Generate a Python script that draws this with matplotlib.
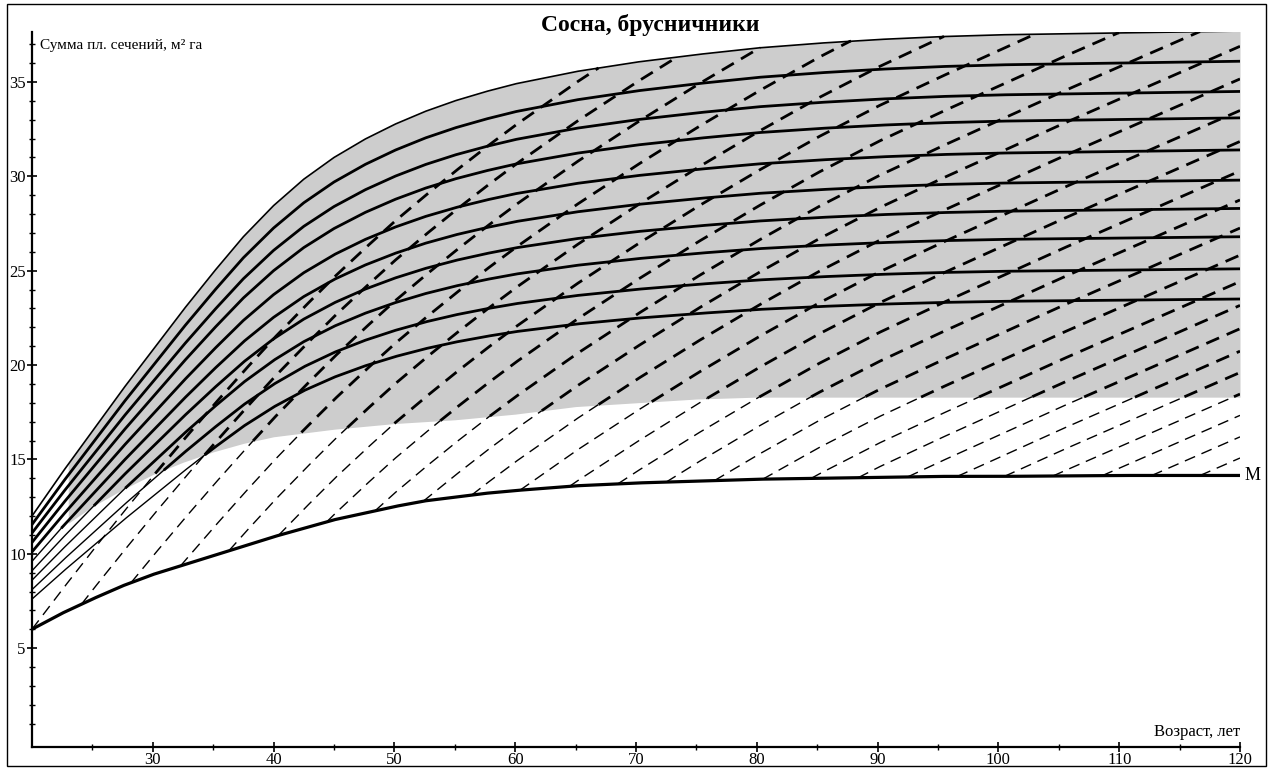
import numpy as np
import matplotlib.pyplot as plt
from matplotlib.patches import Rectangle

plt.rcParams['font.family'] = ['Liberation Serif', 'DejaVu Serif']

ages = [20, 22.5, 25, 27.5, 30, 32.5, 35, 37.5, 40, 42.5, 45, 47.5, 50, 52.5, 55, 57.5, 60,
        65, 70, 75, 80, 85, 90, 95, 100, 105, 110, 115, 120]
# upper envelope (m2/ha)
g_top = [12.0, 14.3, 16.5, 18.7, 20.8, 22.9, 24.9, 26.8, 28.45, 29.85, 31.0, 31.95, 32.75, 33.43,
         34.0, 34.48, 34.9, 35.55, 36.05, 36.45, 36.8, 37.05, 37.25, 37.4, 37.5, 37.55, 37.6, 37.65, 37.7]
# lower curve "M"
g_min = [6.0, 6.85, 7.6, 8.3, 8.9, 9.4, 9.9, 10.4, 10.9, 11.35, 11.8, 12.15, 12.5, 12.8,
         13.0, 13.2, 13.35, 13.6, 13.75, 13.85, 13.95, 14.0, 14.05, 14.1, 14.1, 14.12, 14.15, 14.15, 14.15]
# lower edge of the grey band
shade_low = [10.1, 11.4, 12.5, 13.4, 14.2, 14.85, 15.4, 15.85, 16.2, 16.4, 16.6, 16.75, 16.9, 17.0,
             17.1, 17.25, 17.4, 17.8, 18.0, 18.2, 18.3, 18.3, 18.3, 18.3, 18.3, 18.3, 18.3, 18.3, 18.3]
# solid curves below the envelope: value at age 20 and at age 120
g_start = [11.55, 11.1, 10.6, 10.1, 9.6, 9.1, 8.6, 8.1, 7.6]
g_end = [36.1, 34.5, 33.1, 31.4, 29.8, 28.3, 26.8, 25.1, 23.5]
# dashed growth lines: age where they leave the M curve, and their rise with age
dash_start = [20, 24.1, 28.2, 32.3, 36.3, 40.4, 44.4, 48.4, 52.4, 56.4, 60.4, 64.5, 68.5,
              72.5, 76.5, 80.5, 84.5, 88.4, 92.5, 96.6, 100.5, 104.5, 108.6, 112.7, 116.7]
dash_rise = [0, 2.1, 4.15, 6.15, 8.1, 10.0, 11.85, 13.65, 15.4, 17.05, 18.65, 20.15, 21.6, 22.95,
             24.25, 25.5, 26.7, 28.95, 31.05, 33.05, 34.95, 36.75, 38.4, 39.9, 41.35, 42.8, 44.2, 45.6, 47.0]

x = np.linspace(20, 120, 1001)
top = np.interp(x, ages, g_top)
low = np.interp(x, ages, shade_low)
mline = np.interp(x, ages, g_min)
rise = np.interp(x, ages, dash_rise)
shape = (top - top[0]) / (top[-1] - top[0])

fig = plt.figure(figsize=(12.74, 7.68), dpi=100)
ax = fig.add_axes([32 / 1274, 1 - 747 / 768, (1240 - 32) / 1274, (747 - 32) / 768])

ax.fill_between(x, low, top, where=x >= 23, color='#cdcdcd', lw=0, zorder=1)


def split_plot(xx, yy, thick_kw, thin_kw):
    ok = ~np.isnan(yy)
    thick = ok & (yy >= low)
    thin = ok & ~thick
    # widen the thin part by one step so the pieces join
    thin2 = thin.copy()
    thin2[1:] |= thin[:-1]
    thin2[:-1] |= thin[1:]
    thin2 &= ok
    ax.plot(xx, np.where(thin2, yy, np.nan), color='black', **thin_kw)
    ax.plot(xx, np.where(thick, yy, np.nan), color='black', **thick_kw)


# solid curves
for a, b in zip(g_start, g_end):
    y = a + (b - a) * shape
    split_plot(x, y, dict(lw=2.0, zorder=4), dict(lw=1.0, zorder=4))
ax.plot(x, top, color='black', lw=1.2, zorder=4)

# dashed lines
for a0 in dash_start:
    y0 = np.interp(a0, ages, g_min)
    y = y0 + rise - np.interp(a0, ages, dash_rise)
    y[x < a0] = np.nan
    over = np.where(y > top)[0]
    if len(over):
        y[over[0] + 1:] = np.nan
        y[over[0]] = top[over[0]]
    split_plot(x, y, dict(lw=2.0, dashes=(5, 3), zorder=3),
               dict(lw=1.0, dashes=(8, 5), zorder=3))

ax.plot(x, mline, color='black', lw=2.3, zorder=5)
ax.text(120.4, g_min[-1], 'М', fontsize=13, va='center', ha='left', clip_on=False)

ax.set_xlim(20, 120)
ax.set_ylim(-0.24, 37.65)
ax.spines['top'].set_visible(False)
ax.spines['right'].set_visible(False)
ax.spines['left'].set_linewidth(1.6)
ax.spines['bottom'].set_linewidth(1.6)
ax.set_xticks(range(30, 121, 10))
ax.set_xticks(range(25, 121, 10), minor=True)
ax.set_yticks(range(5, 36, 5))
ax.set_yticks(range(1, 38), minor=True)
ax.tick_params(which='major', direction='inout', length=7, width=1.2, labelsize=12, pad=0)
ax.tick_params(which='minor', direction='inout', length=5, width=1.0)
ax.tick_params(axis='y', which='major', pad=1)
ax.set_facecolor('none')

fig.text(650 / 1274, 1 - 25 / 768, 'Сосна, брусничники', fontsize=17, fontweight='bold',
         ha='center', va='center')
fig.text(40 / 1274, 1 - 45 / 768, 'Сумма пл. сечений, м² га', fontsize=11, ha='left', va='center')
fig.text(1240 / 1274, 1 - 732 / 768, 'Возраст, лет', fontsize=12, ha='right', va='center')

fig.patches.append(Rectangle((7 / 1274, 2 / 768), 1259 / 1274, 762 / 768, transform=fig.transFigure,
                             fill=False, lw=1.0, ec='black'))

fig.savefig('out.png', dpi=100)
